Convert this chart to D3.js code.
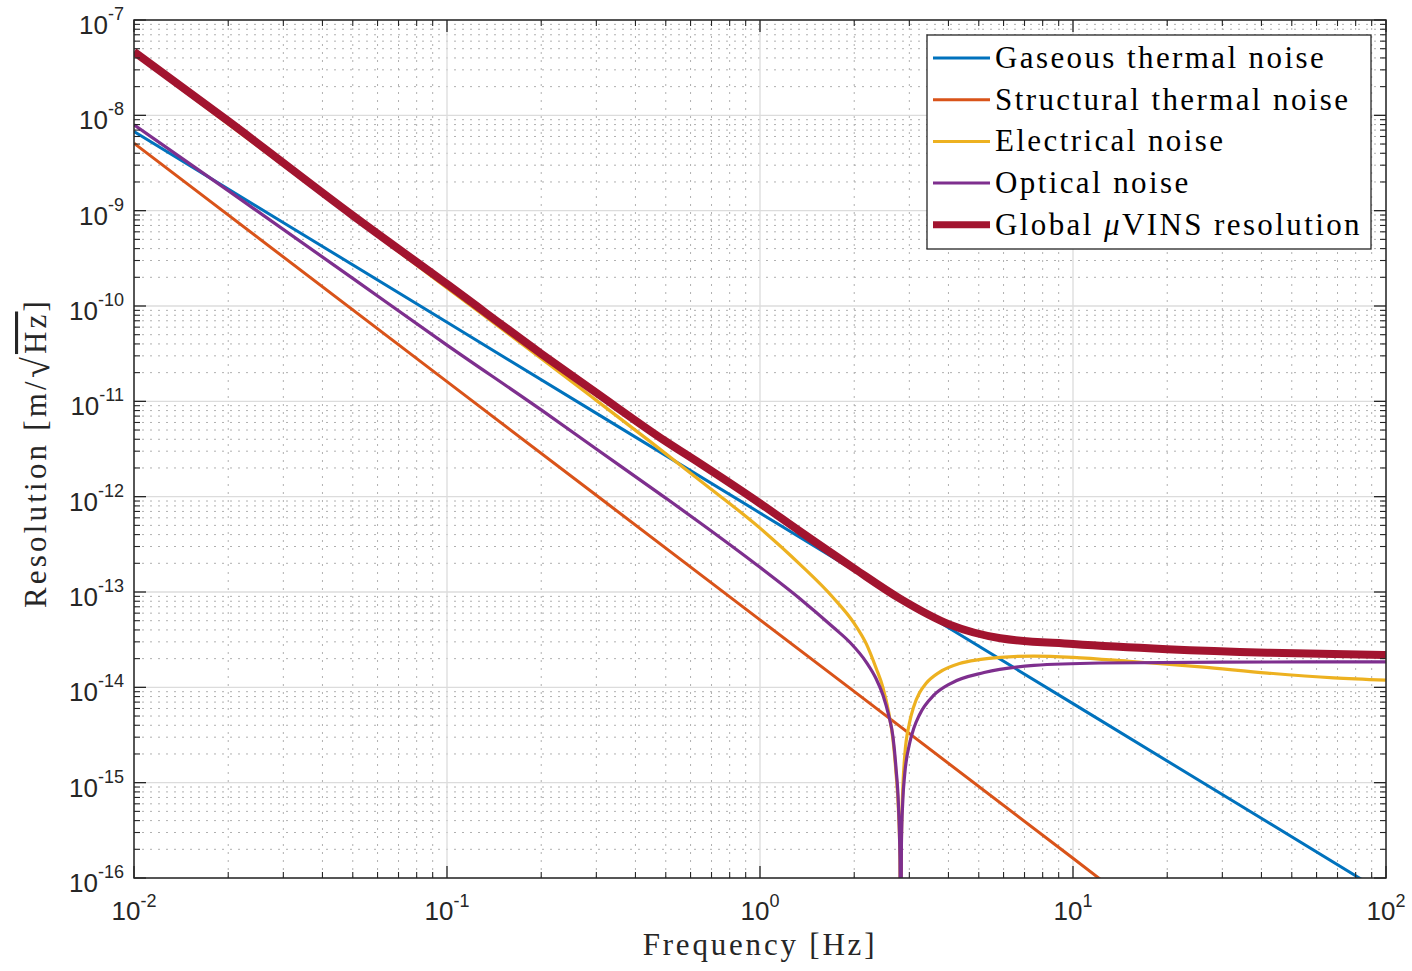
<!DOCTYPE html>
<html><head><meta charset="utf-8">
<script src="https://cdn.jsdelivr.net/npm/d3@7"></script>
<style>
html,body{margin:0;padding:0;background:#fff;}
</style>
</head><body>
<svg id="chart" width="1412" height="971"></svg>
<script>
// ---------- data ----------
const seriesNames = ["Gaseous thermal noise","Structural thermal noise","Electrical noise","Optical noise","Global μVINS resolution"];

const gaseousFreq = [0.01, 0.1, 1, 10, 100];
const gaseousVal  = [6.75e-9, 6.75e-11, 6.75e-13, 6.75e-15, 6.75e-17];

const structuralFreq = [0.01, 0.1, 1, 10, 20];
const structuralVal  = [5.1e-9, 1.61e-11, 5.1e-14, 1.61e-16, 2.8e-17];

// log10 of value
const electricalFreq = [0.01, 0.02, 0.05, 0.1, 0.2, 0.3, 0.445, 0.643, 1.0, 1.342, 1.714, 2.0, 2.19, 2.35, 2.47, 2.58, 2.66, 2.72, 2.77, 2.80, 2.815, 2.83, 2.86, 2.90, 3.0, 3.1, 3.23, 3.39, 3.75, 4.34, 5.0, 5.86, 7.5, 10, 15.5, 25.6, 41.8, 68.1, 100];
const electricalLog  = [-7.35, -8.09, -9.07, -9.81, -10.55, -10.99, -11.42, -11.83, -12.33, -12.71, -13.06, -13.33, -13.55, -13.80, -14.00, -14.27, -14.55, -14.90, -15.30, -15.80, -18.0, -15.60, -15.05, -14.72, -14.38, -14.20, -14.06, -13.96, -13.84, -13.75, -13.71, -13.685, -13.672, -13.685, -13.73, -13.785, -13.85, -13.90, -13.924];

const opticalFreq = [0.01, 0.02, 0.05, 0.1, 0.2, 0.3, 0.5, 0.643, 1.0, 1.342, 1.714, 1.94, 2.19, 2.35, 2.47, 2.58, 2.66, 2.72, 2.77, 2.80, 2.815, 2.83, 2.86, 2.90, 3.0, 3.1, 3.23, 3.6, 4.06, 5.2, 7.5, 12.2, 30, 100];
const opticalLog  = [-8.10, -8.79, -9.71, -10.41, -11.09, -11.50, -12.015, -12.273, -12.741, -13.07, -13.37, -13.53, -13.74, -13.91, -14.08, -14.30, -14.52, -14.85, -15.25, -15.80, -18.0, -15.65, -15.18, -14.91, -14.60, -14.43, -14.29, -14.08, -13.96, -13.845, -13.77, -13.745, -13.735, -13.733];

const globalFreq = [0.01, 0.02, 0.05, 0.1, 0.2, 0.3, 0.5, 0.643, 1.0, 1.342, 2.0, 2.8, 4.06, 5.86, 10, 20, 41.8, 100];
const globalLog  = [-7.333, -8.06, -9.05, -9.77, -10.50, -10.91, -11.42, -11.651, -12.07, -12.364, -12.753, -13.069, -13.345, -13.485, -13.546, -13.60, -13.637, -13.66];

const xTickExps = [-2, -1, 0, 1, 2];
const yTickExps = [-16, -15, -14, -13, -12, -11, -10, -9, -8, -7];

// ---------- layout ----------
const svg = d3.select("#chart");
const L = 134, R = 1386, T = 20, B = 878;
const x = d3.scaleLog().domain([1e-2, 1e2]).range([L, R]);
const y = d3.scaleLog().domain([1e-16, 1e-7]).range([B, T]);

const colors = ["#0072BD", "#D95319", "#EDB120", "#7E2F8E", "#A2142F"];
const widths = [3, 3, 3.2, 3.2, 8];

svg.append("defs").append("clipPath").attr("id", "clip")
  .append("rect").attr("x", L).attr("y", T).attr("width", R - L).attr("height", B - T);

const xMinor = [], yMinor = [];
for (let e = -2; e < 2; e++) for (let m = 2; m <= 9; m++) xMinor.push(m * Math.pow(10, e));
for (let e = -16; e < -7; e++) for (let m = 2; m <= 9; m++) yMinor.push(m * Math.pow(10, e));
const xMajor = xTickExps.map(e => Math.pow(10, e));
const yMajor = yTickExps.map(e => Math.pow(10, e));

const grid = svg.append("g");
grid.selectAll(".xm").data(xMinor).enter().append("line")
  .attr("x1", d => x(d)).attr("x2", d => x(d)).attr("y1", T).attr("y2", B)
  .attr("stroke", "#b0b0b0").attr("stroke-width", 1).attr("stroke-dasharray", "2,6");
grid.selectAll(".ym").data(yMinor).enter().append("line")
  .attr("y1", d => y(d)).attr("y2", d => y(d)).attr("x1", L).attr("x2", R)
  .attr("stroke", "#b0b0b0").attr("stroke-width", 1).attr("stroke-dasharray", "2,6");
grid.selectAll(".xM").data(xMajor).enter().append("line")
  .attr("x1", d => x(d)).attr("x2", d => x(d)).attr("y1", T).attr("y2", B)
  .attr("stroke", "#dcdcdc").attr("stroke-width", 1.3);
grid.selectAll(".yM").data(yMajor).enter().append("line")
  .attr("y1", d => y(d)).attr("y2", d => y(d)).attr("x1", L).attr("x2", R)
  .attr("stroke", "#dcdcdc").attr("stroke-width", 1.3);

// ---------- curves ----------
const series = [
  gaseousFreq.map((f, i) => [f, gaseousVal[i]]),
  structuralFreq.map((f, i) => [f, structuralVal[i]]),
  electricalFreq.map((f, i) => [f, Math.pow(10, electricalLog[i])]),
  opticalFreq.map((f, i) => [f, Math.pow(10, opticalLog[i])]),
  globalFreq.map((f, i) => [f, Math.pow(10, globalLog[i])])
];
const line = d3.line().x(d => x(d[0])).y(d => y(d[1])).curve(d3.curveMonotoneX);
const plot = svg.append("g").attr("clip-path", "url(#clip)");
series.forEach((s, i) => {
  plot.append("path").attr("d", line(s)).attr("fill", "none")
    .attr("stroke", colors[i]).attr("stroke-width", widths[i])
    .attr("stroke-linejoin", "round").attr("stroke-linecap", "butt");
});

// ---------- axes box & ticks ----------
const axisColor = "#262626";
const ax = svg.append("g").attr("stroke", axisColor);
ax.append("rect").attr("x", L).attr("y", T).attr("width", R - L).attr("height", B - T)
  .attr("fill", "none").attr("stroke-width", 1.5);
const majLen = 12, minLen = 6;
xMajor.forEach(v => {
  ax.append("line").attr("x1", x(v)).attr("x2", x(v)).attr("y1", B).attr("y2", B - majLen).attr("stroke-width", 1.3);
  ax.append("line").attr("x1", x(v)).attr("x2", x(v)).attr("y1", T).attr("y2", T + majLen).attr("stroke-width", 1.3);
});
xMinor.forEach(v => {
  ax.append("line").attr("x1", x(v)).attr("x2", x(v)).attr("y1", B).attr("y2", B - minLen).attr("stroke-width", 1.1);
  ax.append("line").attr("x1", x(v)).attr("x2", x(v)).attr("y1", T).attr("y2", T + minLen).attr("stroke-width", 1.1);
});
yMajor.forEach(v => {
  ax.append("line").attr("y1", y(v)).attr("y2", y(v)).attr("x1", L).attr("x2", L + majLen).attr("stroke-width", 1.3);
  ax.append("line").attr("y1", y(v)).attr("y2", y(v)).attr("x1", R).attr("x2", R - majLen).attr("stroke-width", 1.3);
});
yMinor.forEach(v => {
  ax.append("line").attr("y1", y(v)).attr("y2", y(v)).attr("x1", L).attr("x2", L + minLen).attr("stroke-width", 1.1);
  ax.append("line").attr("y1", y(v)).attr("y2", y(v)).attr("x1", R).attr("x2", R - minLen).attr("stroke-width", 1.1);
});

// ---------- tick labels ----------
const sans = "Liberation Sans, Arimo, Arial, Helvetica, sans-serif";
xTickExps.forEach(e => {
  const t = svg.append("text").attr("x", x(Math.pow(10, e))).attr("y", 920)
    .attr("text-anchor", "middle").style("font-family", sans).attr("fill", axisColor);
  t.append("tspan").attr("font-size", 26).text("10");
  t.append("tspan").attr("font-size", 18).attr("dy", -13).text(String(e));
});
yTickExps.forEach(e => {
  const t = svg.append("text").attr("x", 124).attr("y", y(Math.pow(10, e)) + 14)
    .attr("text-anchor", "end").style("font-family", sans).attr("fill", axisColor);
  t.append("tspan").attr("font-size", 26).text("10");
  t.append("tspan").attr("font-size", 18).attr("dy", -14).text(String(e));
});

// ---------- axis titles ----------
const serif = "Liberation Serif, Times New Roman, Times, serif";
svg.append("text").attr("x", 760).attr("y", 955).attr("text-anchor", "middle")
  .style("font-family", serif).attr("font-size", 31).attr("letter-spacing", 2.8).attr("fill", axisColor)
  .text("Frequency [Hz]");
const yt = svg.append("text").attr("transform", "translate(46,453) rotate(-90)")
  .attr("text-anchor", "middle").style("font-family", serif).attr("font-size", 31)
  .attr("letter-spacing", 3.2).attr("fill", axisColor);
yt.append("tspan").text("Resolution [m/");
yt.append("tspan").attr("font-size", 38).attr("dy", 3).text("√");
yt.append("tspan").attr("dy", -3).style("text-decoration", "overline").text("Hz");
yt.append("tspan").text("]");

// ---------- legend ----------
const lg = svg.append("g");
lg.append("rect").attr("x", 927).attr("y", 35).attr("width", 444).attr("height", 214)
  .attr("fill", "#fff").attr("stroke", axisColor).attr("stroke-width", 1.3);
seriesNames.forEach((name, i) => {
  const cy = 58 + i * 41.7;
  lg.append("line").attr("x1", 933).attr("x2", 990).attr("y1", cy).attr("y2", cy)
    .attr("stroke", colors[i]).attr("stroke-width", i === 4 ? 7 : 3);
  const t = lg.append("text").attr("x", 995).attr("y", cy + 10)
    .style("font-family", serif).attr("font-size", 31).attr("letter-spacing", 2.4).attr("fill", "#000");
  if (name.indexOf("μ") >= 0) {
    const parts = name.split("μ");
    t.append("tspan").text(parts[0]);
    t.append("tspan").attr("font-style", "italic").text("μ");
    t.append("tspan").text(parts[1]);
  } else {
    t.text(name);
  }
});
</script>
</body></html>
